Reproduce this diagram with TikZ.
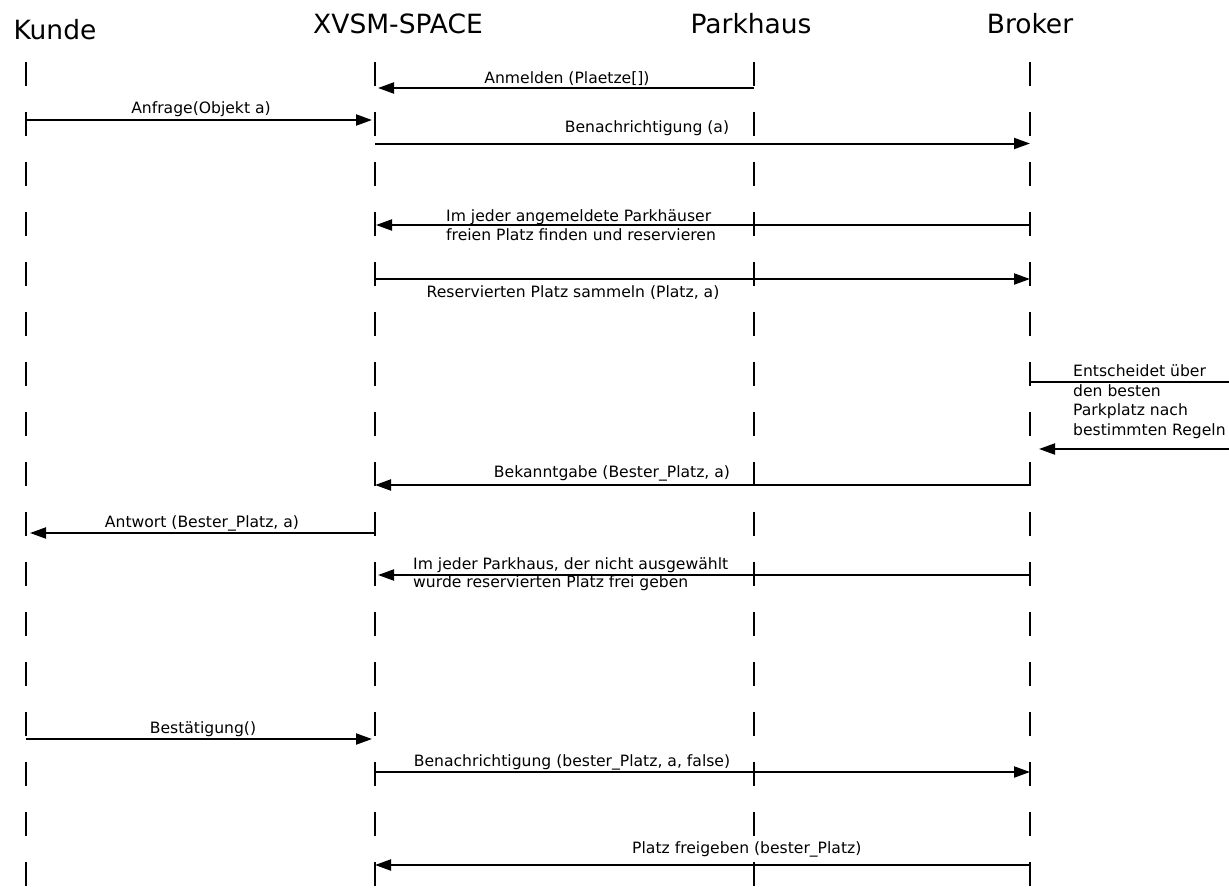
\documentclass[tikz,border=0pt]{standalone}
\usepackage{fontspec}
\setmainfont{DejaVu Sans}
\usetikzlibrary{arrows.meta}
\begin{document}
\begin{tikzpicture}[x=1pt,y=-1pt,
  lifeline/.style={line width=2.2pt, dash pattern=on 24pt off 26pt},
  msg/.style={line width=2pt, -{Triangle[length=16pt,width=11pt]}},
  plain/.style={line width=2pt},
  head/.style={font=\fontsize{26.5}{30}\selectfont, inner sep=0pt, anchor=base},
  lbl/.style={font=\fontsize{15.6}{19}\selectfont, inner sep=0pt, anchor=base},
  lblw/.style={lbl, anchor=base west},
]
\useasboundingbox (0,0) rectangle (1229,889);

% participants
\node[head] (kunde)  at (55,39)   {Kunde};
\node[head] (xvsm)   at (398,33)  {XVSM-SPACE};
\node[head] (park)   at (751,33)  {Parkhaus};
\node[head] (broker) at (1030,33) {Broker};

% lifelines
\coordinate (kT) at (26,62);  \coordinate (kB) at (26,889);
\coordinate (xT) at (375,62); \coordinate (xB) at (375,889);
\coordinate (pT) at (754,62); \coordinate (pB) at (754,889);
\coordinate (bT) at (1030,62);\coordinate (bB) at (1030,889);
\draw[lifeline] (kT) -- (kB);
\draw[lifeline] (xT) -- (xB);
\draw[lifeline] (pT) -- (pB);
\draw[lifeline] (bT) -- (bB);

% 1
\coordinate (p1) at (754,88);  \coordinate (x1) at (375,88);
\draw[msg, shorten >=3pt] (p1) -- (x1);
\node[lbl] (l1) at (567,83) {Anmelden (Plaetze[])};

% 2
\coordinate (k2) at (26,120);  \coordinate (x2) at (375,120);
\draw[msg, shorten >=3pt] (k2) -- (x2);
\node[lbl] (l2) at (201,113) {Anfrage(Objekt a)};

% 3
\coordinate (x3) at (375,143.5);  \coordinate (b3) at (1030,143.5);
\draw[msg] (x3) -- (b3);
\node[lbl] (l3) at (647,132) {Benachrichtigung (a)};

% 4
\coordinate (b4) at (1030,225);  \coordinate (x4) at (375,225);
\draw[msg, shorten >=1pt] (b4) -- (x4);
\node[lblw] (l4a) at (446,221) {Im jeder angemeldete Parkhäuser};
\node[lblw] (l4b) at (446,240) {freien Platz finden und reservieren};

% 5
\coordinate (x5) at (375,279);  \coordinate (b5) at (1030,279);
\draw[msg] (x5) -- (b5);
\node[lbl] (l5) at (573,297) {Reservierten Platz sammeln (Platz, a)};

% 6 (decision at the broker)
\coordinate (b6) at (1030,381.5);  \coordinate (e6) at (1229,381.5);
\coordinate (e7) at (1229,449);    \coordinate (b7) at (1030,449);
\draw[plain] (b6) -- (e6);
\draw[msg, shorten >=9pt] (e7) -- (b7);
\node[lblw] (l6a) at (1073,376) {Entscheidet über};
\node[lblw] (l6b) at (1073,396) {den besten};
\node[lblw] (l6c) at (1073,415) {Parkplatz nach};
\node[lblw] (l6d) at (1073,435) {bestimmten Regeln};

% 7
\coordinate (b8) at (1030,485);  \coordinate (x8) at (375,485);
\draw[msg] (b8) -- (x8);
\node[lbl] (l7) at (612,477) {Bekanntgabe (Bester\_Platz, a)};

% 8
\coordinate (x9) at (375,533);  \coordinate (k9) at (26,533);
\draw[msg, shorten >=4pt] (x9) -- (k9);
\node[lbl] (l8) at (202,527) {Antwort (Bester\_Platz, a)};

% 9
\coordinate (b10) at (1030,575);  \coordinate (x10) at (375,575);
\draw[msg, shorten >=3pt] (b10) -- (x10);
\node[lblw] (l9a) at (413,569) {Im jeder Parkhaus, der nicht ausgewählt};
\node[lblw] (l9b) at (413,587) {wurde reservierten Platz frei geben};

% 10
\coordinate (k11) at (26,739);  \coordinate (x11) at (375,739);
\draw[msg, shorten >=3pt] (k11) -- (x11);
\node[lbl] (l10) at (203,733) {Bestätigung()};

% 11
\coordinate (x12) at (375,772);  \coordinate (b12) at (1030,772);
\draw[msg] (x12) -- (b12);
\node[lbl] (l11) at (572,766) {Benachrichtigung (bester\_Platz, a, false)};

% 12
\coordinate (b13) at (1030,865);  \coordinate (x13) at (375,865);
\draw[msg] (b13) -- (x13);
\node[lblw] (l12) at (632,853) {Platz freigeben (bester\_Platz)};
\end{tikzpicture}
\end{document}
